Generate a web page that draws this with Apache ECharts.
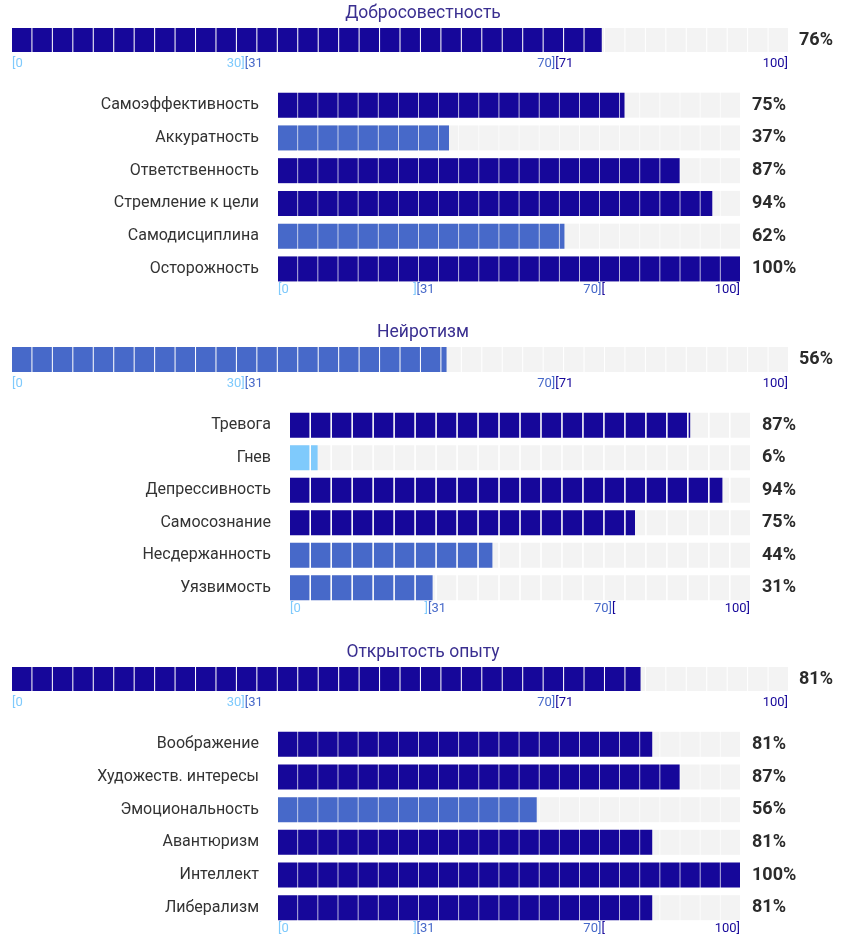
<!DOCTYPE html>
<html>
<head>
<meta charset="utf-8">
<script src="https://cdn.jsdelivr.net/npm/echarts@6/dist/echarts.min.js"></script>
<style>
  html, body { margin: 0; padding: 0; background: #fff; }
  #main { width: 846px; height: 942px; }
</style>
</head>
<body>
<div id="main"></div>
<script>
// данные
let titles = ['Добросовестность', 'Нейротизм', 'Открытость опыту'];
let totals = [76, 56, 81];

let consCats = ['Самоэффективность', 'Аккуратность', 'Ответственность', 'Стремление к цели', 'Самодисциплина', 'Осторожность'];
let consVals = [75, 37, 87, 94, 62, 100];
let neuroCats = ['Тревога', 'Гнев', 'Депрессивность', 'Самосознание', 'Несдержанность', 'Уязвимость'];
let neuroVals = [87, 6, 94, 75, 44, 31];
let openCats = ['Воображение', 'Художеств. интересы', 'Эмоциональность', 'Авантюризм', 'Интеллект', 'Либерализм'];
let openVals = [81, 87, 56, 81, 100, 81];

// подписи шкалы: [слева от деления, справа от деления]
let bigTicks = { 0: ['', '[0'], 30: ['30]', '[31'], 70: ['70]', '[71'], 100: ['100]', ''] };
let smallTicks = { 0: ['', '[0'], 30: [']', '[31'], 70: ['70]', '['], 100: ['100]', ''] };

const LIGHT = '#7fcafc', MID = '#4769c9', NAVY = '#16079a', BG = '#f3f3f3';

function colorOf(v) {
  if (v <= 30) return LIGHT;
  if (v <= 70) return MID;
  return NAVY;
}

let rich = {
  lt: { color: LIGHT, fontSize: 13 },
  md: { color: MID, fontSize: 13 },
  nv: { color: NAVY, fontSize: 13 }
};
// часть слева от деления -> интервал до него, справа -> после
let leftKey = { 30: 'lt', 70: 'md', 100: 'nv' };
let rightKey = { 0: 'lt', 30: 'md', 70: 'nv' };

function tickFormatter(ticks, side) {
  return function (v) {
    let t = ticks[v];
    if (!t) return '';
    let s = side === 0 ? t[0] : t[1];
    if (!s) return '';
    let key = side === 0 ? leftKey[v] : rightKey[v];
    return '{' + key + '|' + s + '}';
  };
}

let layout = [
  { big: 28, bigH: 24, small: 88.8, smallH: 196.5, left: 278, right: 106, title: 5 },
  { big: 347, bigH: 25, small: 409, smallH: 195, left: 290, right: 96, title: 324 },
  { big: 667, bigH: 24, small: 728, smallH: 196, left: 278, right: 106, title: 644 }
];
let cats = [consCats, neuroCats, openCats];
let vals = [consVals, neuroVals, openVals];

var option = {
  animation: false,
  textStyle: { fontFamily: 'Roboto' },
  title: [],
  grid: [],
  xAxis: [],
  yAxis: [],
  series: []
};

function addBlock(gi, top, height, left, right, categories, values, barH, ticks, labelMargin, valueMargin) {
  option.grid.push({ top: top, height: height, left: left, right: right, outerBoundsMode: 'none', containLabel: false });
  // две оси снизу: одна для текста слева от деления, другая справа
  [0, 1].forEach(function (side) {
    option.xAxis.push({
      gridIndex: gi, type: 'value', position: 'bottom', offset: 0,
      min: 0, max: 100, interval: 10,
      axisLine: { show: false }, axisTick: { show: false }, splitLine: { show: false },
      axisLabel: {
        margin: labelMargin, align: side === 0 ? 'right' : 'left',
        formatter: tickFormatter(ticks, side), rich: rich,
        showMinLabel: true, showMaxLabel: true, hideOverlap: false
      }
    });
  });
  option.yAxis.push({
    gridIndex: gi, type: 'category', inverse: true, data: categories,
    axisLine: { show: false }, axisTick: { show: false },
    axisLabel: { margin: 19, fontSize: 16, color: '#333', padding: [3, 0, 0, 0] }
  });
  option.yAxis.push({
    gridIndex: gi, type: 'category', inverse: true, position: 'right',
    data: values.map(function (v) { return v + '%'; }),
    axisLine: { show: false }, axisTick: { show: false },
    axisLabel: { margin: valueMargin, fontSize: 18, fontWeight: 'bold', color: '#2b2b2b', padding: [2, 0, 0, 0] }
  });
  let seg = {
    type: 'pictorialBar', xAxisIndex: gi * 2, yAxisIndex: gi * 2,
    symbol: 'rect', symbolRepeat: 'fixed', symbolSize: [19.4, barH], symbolMargin: 0.8,
    symbolBoundingData: 100, symbolClip: true
  };
  option.series.push(Object.assign({}, seg, {
    z: 1, itemStyle: { color: BG },
    data: values.map(function () { return 100; })
  }));
  option.series.push(Object.assign({}, seg, {
    z: 2,
    data: values.map(function (v) { return { value: v, itemStyle: { color: colorOf(v) } }; })
  }));
}

for (let i = 0; i < 3; i++) {
  let L = layout[i];
  option.title.push({
    text: titles[i], left: 'center', top: L.title, padding: 0,
    textStyle: { fontSize: 17.5, fontWeight: 'normal', color: '#3a2f90' }
  });
  addBlock(i * 2, L.big, L.bigH, 12, 58, [''], [totals[i]], L.bigH, bigTicks, 5, 11);
  addBlock(i * 2 + 1, L.small, L.smallH, L.left, L.right, cats[i], vals[i], 25, smallTicks, -2, 12);
}

let chart = echarts.init(document.getElementById('main'), null, { renderer: 'canvas' });
chart.setOption(option);
</script>
</body>
</html>
